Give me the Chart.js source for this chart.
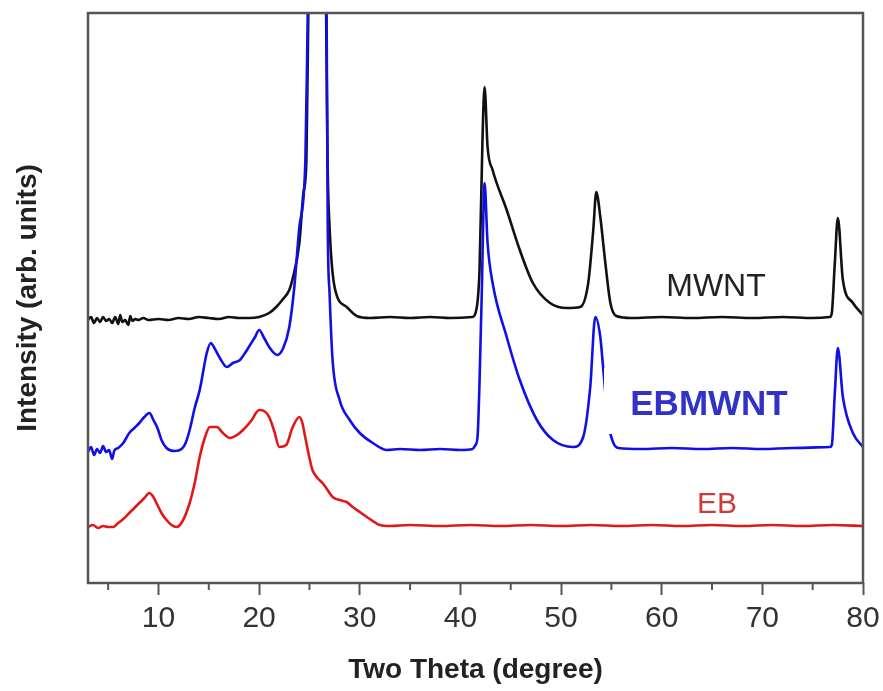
<!DOCTYPE html>
<html>
<head>
<meta charset="utf-8">
<script src="https://cdn.jsdelivr.net/npm/chart.js@4.4.1/dist/chart.umd.min.js"></script>
<style>
  html, body { margin: 0; padding: 0; background: #fff; }
  #wrap { width: 883px; height: 691px; }
</style>
</head>
<body>
<div id="wrap"><canvas id="c"></canvas></div>
<script>
// two theta (degree) and intensity (arb. units)
const mwntTheta = [3.0,3.3,3.6,3.9,4.2,4.5,4.8,5.1,5.4,5.7,6.0,6.2,6.4,6.7,7.0,7.2,7.4,7.7,8.0,8.5,9,10,11,12,13,14,15,16,17,18,19,20,21,21.7,22.3,23.0,23.3,24.0,24.4,24.7,24.9,25.2,25.8,26.4,26.65,26.8,27.0,27.5,28.7,29.7,31,33,35,37,39,41.2,41.5,41.9,42.2,42.4,42.7,43.2,44.6,45.9,47.2,48.9,50.6,51.9,52.7,53.2,53.5,53.9,54.4,54.9,55.5,57,60,63,66,69,72,75,76.7,76.9,77.2,77.5,78.0,79.0,80.0]
const mwntValues = [263,266,260,265,261,266,262,264,260,266,259,268,261,263,258,267,262,264,263,265,263,264,263,265,264,266,265,264,266,265,265,266,270,276,283,293,303,340,390,423,580,800,1100,800,580,423,356,296,276,267,265,266,265,266,265,266,270,313,446,496,436,413,373,333,300,280,275,276,300,353,391,366,320,280,267,265,266,265,266,265,266,265,266,270,320,365,303,280,268]

const ebmTheta = [3.0,3.3,3.6,3.9,4.2,4.5,4.8,5.1,5.4,5.6,6.0,6.5,7.1,7.6,8.1,8.6,9.1,9.5,9.9,10.3,10.8,11.6,12.3,12.7,13.1,13.6,14.1,14.8,15.2,15.5,16.1,16.8,17.4,18.1,18.6,19.1,19.6,20.0,20.5,21.0,21.8,22.4,23.0,23.5,24.0,24.6,24.85,25.2,25.8,26.4,26.7,26.82,27.0,27.3,28.0,29.0,30.0,31.3,32.7,34,36,38,40,41.2,41.5,41.7,42.1,42.4,42.7,43.2,44.6,45.9,47.6,49.2,51.2,52.2,52.9,53.4,53.9,54.2,54.7,55.2,55.7,58,61,64,67,70,73,76.7,76.9,77.2,77.5,78.0,79.0,80.0]
const ebmValues = [131,136,128,134,130,137,131,133,124,132,135,140,150,155,160,166,170,163,155,143,135,132,134,140,153,175,193,230,240,236,225,216,220,223,230,238,246,253,245,236,228,235,256,296,356,423,580,800,1100,800,580,356,290,223,183,163,150,140,133,134,133,134,133,134,138,146,280,400,340,300,246,203,163,143,136,146,196,266,246,213,160,140,135,134,135,134,135,134,135,136,138,190,235,186,150,136]

const ebTheta = [3.0,3.5,4.0,4.5,5.0,5.5,6.0,6.5,7.1,7.6,8.1,8.6,9.1,9.5,9.9,10.3,10.8,11.3,11.8,12.4,13.1,13.6,14.1,14.6,15.1,15.8,16.4,17.1,17.8,18.4,19.2,20.0,20.5,21.0,21.5,22.0,22.7,23.3,24.0,24.3,24.6,25.0,25.3,25.8,26.3,26.8,27.3,28.0,28.7,29.3,30.0,31.0,32.0,33.0,35,38,41,44,47,50,53,56,59,62,65,68,71,74,77,80]
const ebValues = [56,58,55,57,56,56,60,64,70,75,80,85,90,86,78,70,63,58,56,62,80,100,126,145,156,156,150,145,148,153,162,173,172,166,152,136,138,155,166,160,145,125,113,105,100,93,86,83,81,76,71,64,58,57,58,57,58,57,58,57,58,57,58,57,58,57,58,57,58,57]

const xTicks = [10,20,30,40,50,60,70,80]
const minorTicks = [5,15,25,35,45,55,65,75]

function pts(xs, ys) {
  return xs.map((x, i) => ({x: x, y: ys[i]}))
}

const frame = {
  id: 'frame',
  afterDatasetsDraw(chart) {
    const ctx = chart.ctx, a = chart.chartArea, xs = chart.scales.x
    ctx.save()
    // label box that hides part of the blue curve
    ctx.fillStyle = '#fff'
    ctx.fillRect(604, 368, 206, 66)
    ctx.textAlign = 'center'
    ctx.textBaseline = 'alphabetic'
    ctx.fillStyle = '#222'
    ctx.font = '32px "Liberation Sans", Arial, sans-serif'
    ctx.fillText('MWNT', 716, 296)
    ctx.fillStyle = '#3232c8'
    ctx.font = 'bold 35px "Liberation Sans", Arial, sans-serif'
    ctx.fillText('EBMWNT', 709, 415)
    ctx.fillStyle = '#d03a3a'
    ctx.font = '30px "Liberation Sans", Arial, sans-serif'
    ctx.fillText('EB', 717, 513)
    // box and minor ticks
    ctx.strokeStyle = '#555'
    ctx.lineWidth = 2.5
    ctx.strokeRect(a.left, a.top, a.right - a.left, a.bottom - a.top)
    ctx.lineWidth = 2
    minorTicks.forEach(v => {
      const px = xs.getPixelForValue(v)
      ctx.beginPath()
      ctx.moveTo(px, a.bottom)
      ctx.lineTo(px, a.bottom + 7)
      ctx.stroke()
    })
    ctx.restore()
  }
}

new Chart(document.getElementById('c'), {
  type: 'line',
  data: {
    datasets: [
      { label: 'EB', data: pts(ebTheta, ebValues), borderColor: '#e01818', order: 1 },
      { label: 'EBMWNT', data: pts(ebmTheta, ebmValues), borderColor: '#1010e6', order: 2 },
      { label: 'MWNT', data: pts(mwntTheta, mwntValues), borderColor: '#111', order: 3 }
    ]
  },
  options: {
    responsive: true,
    maintainAspectRatio: false,
    animation: false,
    layout: { padding: { top: 13, right: 20, left: 0, bottom: 0 } },
    elements: { point: { radius: 0 }, line: { borderWidth: 2.6, cubicInterpolationMode: 'monotone' } },
    plugins: { legend: { display: false }, tooltip: { enabled: false } },
    scales: {
      x: {
        type: 'linear',
        min: 3,
        max: 80,
        afterBuildTicks: s => { s.ticks = xTicks.map(v => ({value: v})) },
        afterFit: s => { s.height = 108; s.paddingLeft = 0; s.paddingRight = 0 },
        grid: { display: true, drawOnChartArea: false, tickLength: 12, tickColor: '#555', tickWidth: 2 },
        border: { display: false },
        ticks: { color: '#333', padding: 6, maxRotation: 0, font: { family: '"Liberation Sans", Arial, sans-serif', size: 30 } },
        title: { display: true, text: 'Two Theta (degree)', color: '#222', padding: { top: 0, bottom: 4 }, font: { family: '"Liberation Sans", Arial, sans-serif', size: 28, weight: 'bold' } }
      },
      y: {
        min: 0,
        max: 570,
        afterFit: s => { s.width = 88 },
        grid: { display: false },
        border: { display: false },
        ticks: { display: false },
        title: { display: true, text: 'Intensity (arb. units)', color: '#222', padding: { top: 11, bottom: 0 }, font: { family: '"Liberation Sans", Arial, sans-serif', size: 28, weight: 'bold' } }
      }
    }
  },
  plugins: [frame]
})
</script>
</body>
</html>
